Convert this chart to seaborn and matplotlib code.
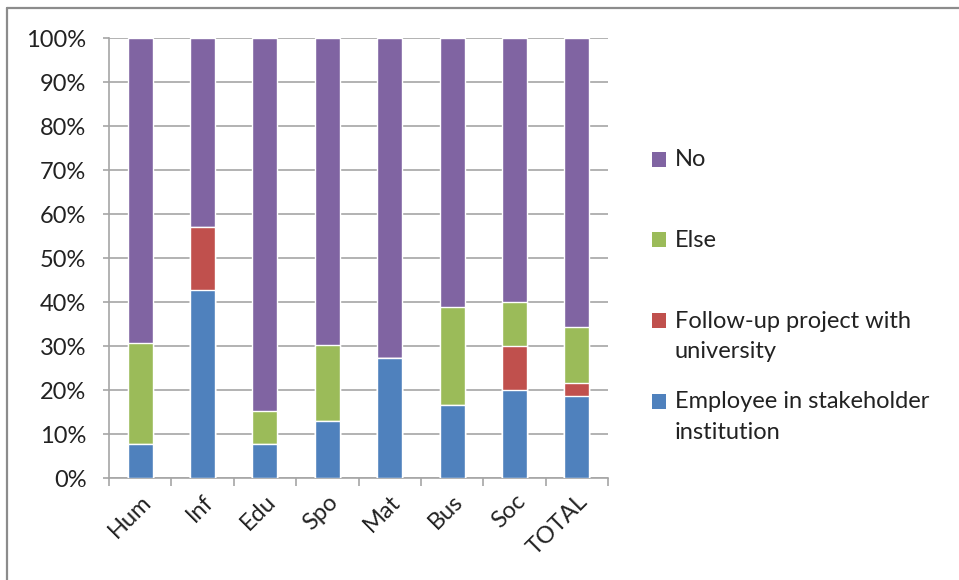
import numpy as np
import pandas as pd
import seaborn as sns
import matplotlib.pyplot as plt
from matplotlib.lines import Line2D
from matplotlib.patches import Patch, Rectangle
from matplotlib.legend_handler import HandlerPatch
from matplotlib.ticker import PercentFormatter, FixedLocator

# shares per group (percent)
groups = ["Hum", "Inf", "Edu", "Spo", "Mat", "Bus", "Soc", "TOTAL"]
employee = [7.7, 42.9, 7.7, 13.0, 27.3, 16.7, 20.0, 18.8]
followup = [0.0, 14.3, 0.0, 0.0, 0.0, 0.0, 10.0, 2.9]
other = [23.1, 0.0, 7.7, 17.4, 0.0, 22.2, 10.0, 12.6]
no = [69.2, 42.8, 84.6, 69.6, 72.7, 61.1, 60.0, 65.7]

series = ["Employee in stakeholder\ninstitution", "Follow-up project with\nuniversity", "Else", "No"]
colors = ["#4F81BD", "#C0504D", "#9BBB59", "#8064A2"]

df = pd.DataFrame({"Group": groups, series[0]: employee, series[1]: followup,
                   series[2]: other, series[3]: no})
cum = df[series].cumsum(axis=1)
cum = cum.div(cum[series[-1]], axis=0) * 100
cum["Group"] = df["Group"]

sns.set_style("white")
plt.rcParams["font.family"] = ["Lato", "DejaVu Sans"]

fig = plt.figure(figsize=(9.59, 5.80), dpi=100)
ax = fig.add_axes([0.1137, 0.1753, 0.5203, 0.7587])

# draw from the top layer down so each shorter bar covers the one behind
for name, col in zip(reversed(series), reversed(colors)):
    sns.barplot(data=cum, x="Group", y=name, color=col, width=0.4,
                saturation=1, ax=ax, zorder=3)

grid_c = "#A6A6A6"
fs = 17
ax.set_ylim(0, 100)
ax.set_xlim(-0.5, len(groups) - 0.5)
ax.set_yticks(np.arange(0, 101, 10))
ax.yaxis.set_major_formatter(PercentFormatter(decimals=0))
ax.yaxis.grid(True, color=grid_c, lw=1.2, zorder=0)
ax.set_axisbelow(True)
ax.set_xlabel("")
ax.set_ylabel("")

for s in ["top", "right"]:
    ax.spines[s].set_visible(False)
for s in ["left", "bottom"]:
    ax.spines[s].set_color(grid_c)
    ax.spines[s].set_linewidth(1.2)

ax.tick_params(axis="y", which="major", direction="out", length=4.3, width=1.2,
               color=grid_c, labelsize=fs, labelcolor="#222222", left=True, pad=12)
ax.xaxis.set_minor_locator(FixedLocator(np.arange(-0.5, len(groups), 1)))
ax.tick_params(axis="x", which="minor", direction="out", length=6, width=1.2,
               color=grid_c, bottom=True)
ax.tick_params(axis="x", which="major", length=0, labelsize=fs,
               labelcolor="#222222", pad=9)
plt.setp(ax.get_xticklabels(), rotation=45, ha="right", rotation_mode="anchor")

# every legend row is two lines tall, so the first lines sit at an even pitch;
# the square is lifted to line up with the first line
line_pitch = 1.55
lift = 0.5 * line_pitch * 0.85 * fs


def first_line_square(legend, orig_handle, xdescent, ydescent, width, height, fontsize):
    return Rectangle((-xdescent, -ydescent + lift), width, height)


handles = [Patch(facecolor=c, edgecolor="none") for c in reversed(colors)]
labels = [s if "\n" in s else s + "\n " for s in reversed(series)]
leg = fig.legend(handles, labels, loc="center left",
                 bbox_to_anchor=(0.658, 0.49), frameon=False, fontsize=fs,
                 handlelength=0.6, handleheight=0.6, handletextpad=0.35,
                 labelspacing=1.25,
                 handler_map={Patch: HandlerPatch(patch_func=first_line_square)})
for t in leg.get_texts():
    t.set_color("#222222")
    t.set_linespacing(line_pitch)

# outer chart border (top and left edges are visible)
fig.add_artist(Line2D([7 / 959, 1], [1 - 8 / 580, 1 - 8 / 580], color="#8C8C8C",
                      lw=1.6, transform=fig.transFigure))
fig.add_artist(Line2D([7 / 959, 7 / 959], [0, 1 - 8 / 580], color="#8C8C8C",
                      lw=1.6, transform=fig.transFigure))

fig.savefig("out.png", dpi=100)
